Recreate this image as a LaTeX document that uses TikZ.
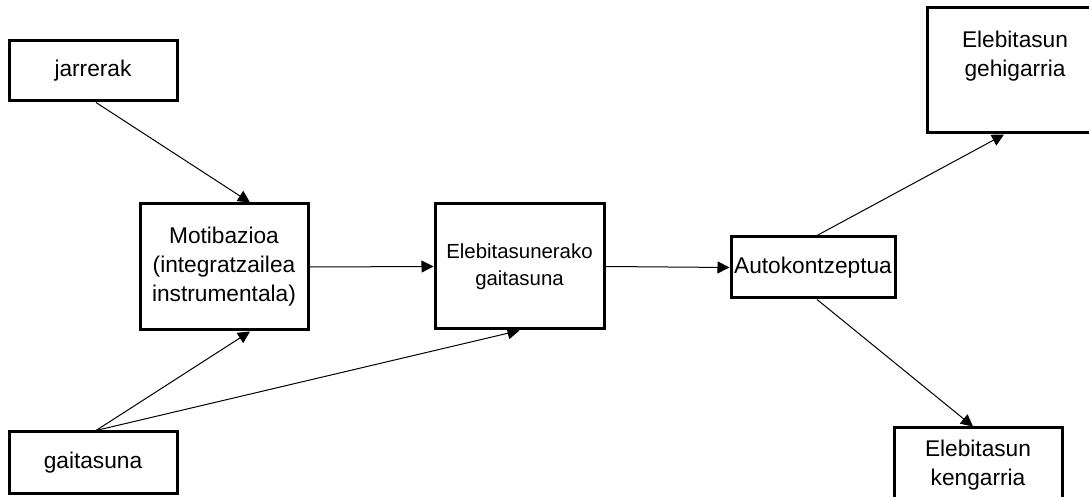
\documentclass[tikz,border=0pt]{standalone}
\usepackage{fontspec}
\setmainfont{Liberation Sans}
\usetikzlibrary{arrows.meta}
\begin{document}
\begin{tikzpicture}[x=0.5pt,y=-0.5pt,line join=miter,>={Triangle[length=6pt,width=6pt]},
	box/.style={draw,line width=1.5pt,align=center,inner sep=0pt,font=\fontsize{11.35}{14.5}\selectfont},
	link/.style={->,line width=0.5pt}]
\clip (0,0) rectangle (1089,497);
\node[box,minimum width=84pt,minimum height=30pt] (jarr) at (93,71) {jarrerak};
\node[box,minimum width=84pt,minimum height=31pt] (gait) at (93,463) {gaitasuna};
\node[box,minimum width=84pt,minimum height=63pt] (moti) at (224,267) {Motibazioa\\(integratzailea\\instrumentala)};
\node[box,minimum width=84.5pt,minimum height=62.5pt,font=\fontsize{10.2}{13.5}\selectfont] (eleb) at (519.5,266.5) {Elebitasunerako\\gaitasuna};
\node[box,minimum width=82pt,minimum height=30.5pt] (auto) at (813,267.5) {Autokontzeptua};
\node[box,minimum width=88pt,minimum height=62.5pt] (gehi) at (1015,70.5) {Elebitasun\\gehigarria\\[2.5pt]};
\node[box,minimum width=84pt,minimum height=37pt] (keng) at (978,465) {Elebitasun\\kengarria};
\draw[link] ([xshift=1.5pt]jarr.south) -- ([xshift=13pt]moti.north);
\draw[link] ([xshift=1.5pt]gait.north) -- ([xshift=13pt]moti.south);
\draw[link] ([xshift=1.5pt]gait.north) -- (eleb.south);
\draw[link] (moti.east) -- (eleb.west);
\draw[link] (eleb.east) -- (auto.west);
\draw[link] ([xshift=2pt]auto.north) -- ([xshift=-5.5pt]gehi.south);
\draw[link] ([xshift=2pt]auto.south) -- ([xshift=-2.5pt]keng.north);
\end{tikzpicture}
\end{document}
